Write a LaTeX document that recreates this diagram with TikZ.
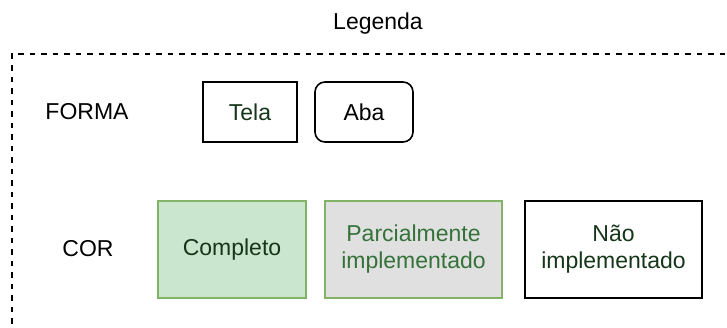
\documentclass[tikz,border=0pt]{standalone}
\usepackage{fontspec}
\setmainfont{Liberation Sans}
\definecolor{txtdark}{HTML}{16361A}
\definecolor{txtgreen}{HTML}{35723A}
\definecolor{grfill}{HTML}{CBE6CE}
\definecolor{grline}{HTML}{82B366}
\definecolor{gyfill}{HTML}{E0E0E0}
\begin{document}
\begin{tikzpicture}[x=1pt,y=-1pt,
  lbl/.style={font=\fontsize{23}{27}\selectfont, text=black},
  box/.style={draw=black, line width=1.6pt, font=\fontsize{23}{27}\selectfont, align=center, inner sep=0pt},
  grbox/.style={box, draw=grline},
]
\useasboundingbox (0,0) rectangle (727,327);
\draw[line width=1.8pt, dash pattern=on 5.5pt off 6pt] (11.7,335) -- (11.7,54) -- (735,54);
\node[lbl] (leg) at (378,24) {Legenda};
\node[lbl] (forma) at (87,112) {FORMA};
\node[lbl] (cor) at (88,249) {COR};
\node[box, text=txtdark, minimum width=94pt, minimum height=60pt] (tela) at (250,112) {Tela};
\node[box, rounded corners=10pt, minimum width=98pt, minimum height=60pt] (aba) at (364,112) {Aba};
\node[grbox, fill=grfill, text=txtdark, minimum width=148pt, minimum height=97pt] (comp) at (232,249.5) {Completo};
\node[grbox, fill=gyfill, text=txtgreen, minimum width=177pt, minimum height=97pt] (parc) at (413.5,249.5) {Parcialmente\\implementado};
\node[box, text=txtdark, minimum width=177pt, minimum height=97pt] (nao) at (613.5,249.5) {Não\\implementado};
\end{tikzpicture}
\end{document}
